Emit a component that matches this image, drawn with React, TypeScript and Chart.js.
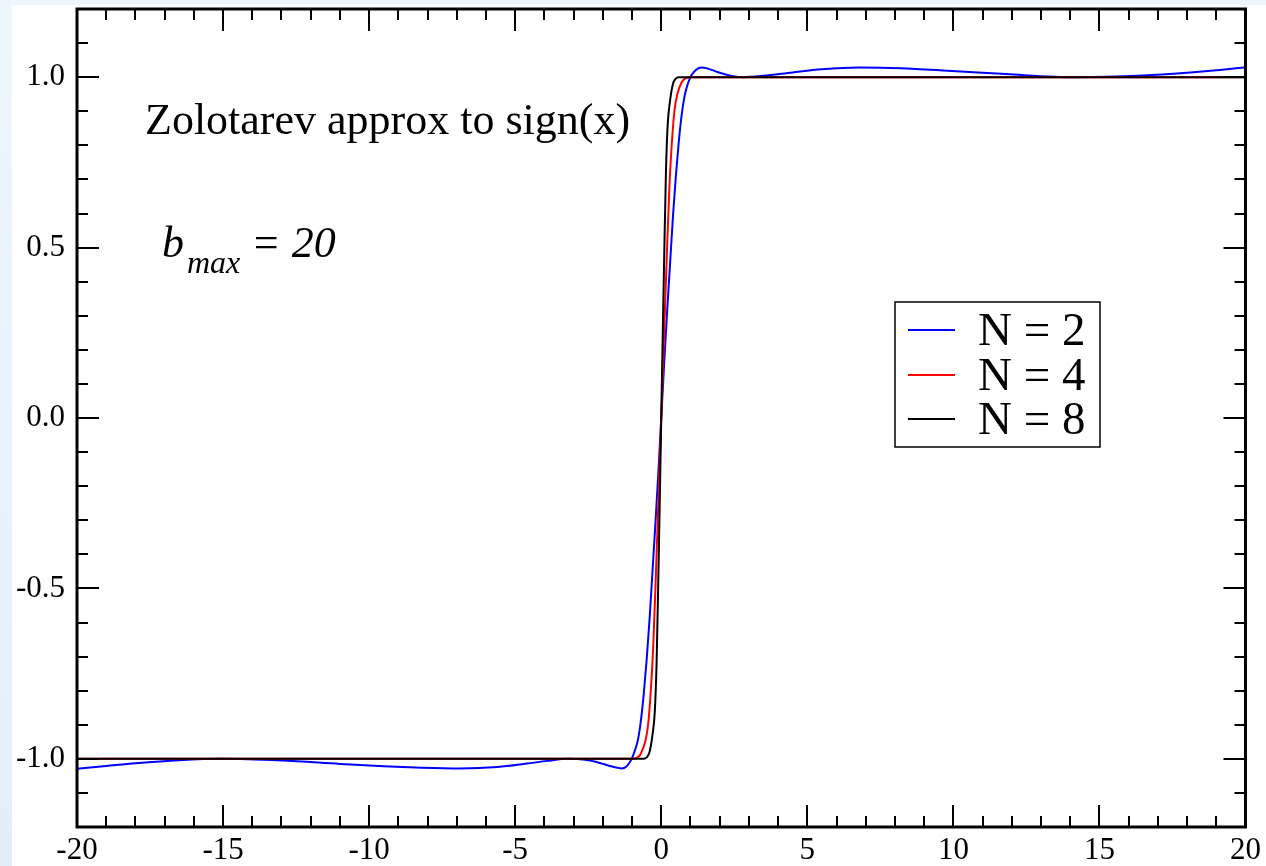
import React, { useEffect, useRef } from "react";
import { Chart, registerables } from "chart.js";

Chart.register(...registerables);

// ---- data ----
const xTicksMajor = [-20, -15, -10, -5, 0, 5, 10, 15, 20];
const yTicksMajor = [-1.0, -0.5, 0.0, 0.5, 1.0];

const seriesNames = ["N = 2", "N = 4", "N = 8"];

const blueX = [
  -20, -19, -18, -16.5, -15.0, -13, -11, -9.5, -8.2, -6.9, -5.6, -4.6, -3.9, -3.2, -2.6, -2.1, -1.75, -1.5,
  -1.35, -1.2, -1.1, -1.0, -0.9, -0.8, -0.7, -0.6, -0.5, -0.4, -0.3, -0.2, -0.1, 0, 0.1, 0.2, 0.3, 0.4, 0.5,
  0.6, 0.7, 0.8, 0.9, 1.0, 1.1, 1.2, 1.37, 1.6, 1.9, 2.3, 2.8, 3.5, 4.5, 5.5, 6.8, 8.2, 9.8, 11.8, 14.2, 16.5,
  18, 19, 20,
];
const blueY = [
  -1.029, -1.021, -1.013, -1.004, -1.0, -1.005, -1.015, -1.022, -1.026, -1.028, -1.024, -1.014, -1.006, -1.0,
  -1.003, -1.012, -1.021, -1.026, -1.028, -1.023, -1.013, -0.998, -0.975, -0.945, -0.89, -0.81, -0.71, -0.59,
  -0.45, -0.31, -0.16, 0, 0.16, 0.31, 0.45, 0.59, 0.71, 0.81, 0.89, 0.945, 0.978, 1.0, 1.013, 1.022, 1.028,
  1.025, 1.016, 1.006, 1.0, 1.004, 1.014, 1.023, 1.028, 1.026, 1.019, 1.009, 1.0, 1.005, 1.013, 1.02, 1.029,
];

const redX = [
  -20, -1.0, -0.9, -0.8, -0.7, -0.55, -0.45, -0.35, -0.28, -0.2, -0.1, 0, 0.1, 0.2, 0.28, 0.35, 0.45, 0.55,
  0.7, 0.8, 0.9, 1.0, 20,
];
const redY = [
  -1.0, -1.0, -0.999, -0.995, -0.985, -0.95, -0.9, -0.79, -0.68, -0.5, -0.25, 0, 0.25, 0.5, 0.68, 0.79, 0.9,
  0.95, 0.985, 0.995, 0.999, 1.0, 1.0,
];

const blackX = [
  -20, -0.6, -0.5, -0.4, -0.3, -0.22, -0.16, -0.1, -0.05, 0, 0.05, 0.1, 0.16, 0.22, 0.3, 0.4, 0.5, 0.6, 20,
];
const blackY = [
  -1.0, -1.0, -0.996, -0.98, -0.93, -0.86, -0.72, -0.47, -0.24, 0, 0.24, 0.47, 0.72, 0.86, 0.93, 0.98, 0.996,
  1.0, 1.0,
];

const seriesColors = ["#0000ff", "#ff0000", "#000000"];

const SERIF = "'Liberation Serif', 'Times New Roman', serif";

const toPoints = (xs: number[], ys: number[]) => xs.map((x, i) => ({ x, y: ys[i] }));

const framePlugin = {
  id: "frame",
  afterDraw(chart: any) {
    const { ctx, chartArea: ca, scales } = chart;
    const xs = scales.x;
    const ys = scales.y;
    ctx.save();
    ctx.strokeStyle = "#000";
    // ticks
    ctx.lineWidth = 2;
    ctx.beginPath();
    xs.ticks.forEach((t: any) => {
      const v = t.value;
      if (v <= -20 || v >= 20) return;
      const major = xTicksMajor.includes(Math.round(v)) && Math.abs(v - Math.round(v)) < 1e-6;
      const len = major ? 22 : 11;
      const px = Math.round(xs.getPixelForValue(v));
      ctx.moveTo(px, ca.bottom);
      ctx.lineTo(px, ca.bottom - len);
      ctx.moveTo(px, ca.top);
      ctx.lineTo(px, ca.top + len);
    });
    ys.ticks.forEach((t: any) => {
      const v = t.value;
      if (v <= -1.19 || v >= 1.19) return;
      const major = yTicksMajor.some((m) => Math.abs(m - v) < 1e-6);
      const len = major ? 22 : 11;
      const py = Math.round(ys.getPixelForValue(v));
      ctx.moveTo(ca.left, py);
      ctx.lineTo(ca.left + len, py);
      ctx.moveTo(ca.right, py);
      ctx.lineTo(ca.right - len, py);
    });
    ctx.stroke();
    // frame
    ctx.lineWidth = 3;
    ctx.strokeRect(ca.left, ca.top, ca.right - ca.left, ca.bottom - ca.top);

    // annotations
    ctx.fillStyle = "#000";
    ctx.textBaseline = "alphabetic";
    ctx.textAlign = "left";
    ctx.font = `44px ${SERIF}`;
    ctx.fillText("Zolotarev approx to sign(x)", 133, 129);
    ctx.font = `italic 44px ${SERIF}`;
    ctx.fillText("b", 150, 252);
    ctx.fillText("= 20", 239, 252);
    ctx.font = `italic 32px ${SERIF}`;
    ctx.fillText("max", 175, 268);

    // legend
    ctx.lineWidth = 1.5;
    ctx.strokeRect(883, 297, 205, 145);
    const rows = [325, 370, 414];
    seriesNames.forEach((name, i) => {
      ctx.strokeStyle = seriesColors[i];
      ctx.lineWidth = 2;
      ctx.beginPath();
      ctx.moveTo(896, rows[i]);
      ctx.lineTo(943, rows[i]);
      ctx.stroke();
      ctx.font = `47px ${SERIF}`;
      ctx.fillText(name, 966, rows[i] + 15);
    });
    ctx.restore();
  },
};

export default function App() {
  const ref = useRef<HTMLCanvasElement | null>(null);
  useEffect(() => {
    if (!ref.current) return;
    const chart = new Chart(ref.current, {
      type: "line",
      data: {
        datasets: [
          {
            label: seriesNames[0],
            data: toPoints(blueX, blueY),
            borderColor: seriesColors[0],
            order: 3,
          },
          {
            label: seriesNames[1],
            data: toPoints(redX, redY),
            borderColor: seriesColors[1],
            order: 2,
          },
          {
            label: seriesNames[2],
            data: toPoints(blackX, blackY),
            borderColor: seriesColors[2],
            order: 1,
          },
        ] as any,
      },
      options: {
        animation: false,
        responsive: false,
        devicePixelRatio: 1,
        layout: { padding: { left: 0, top: 4, right: 20, bottom: 0 } },
        elements: {
          point: { radius: 0 },
          line: { borderWidth: 2, cubicInterpolationMode: "monotone", fill: false },
        },
        plugins: { legend: { display: false }, tooltip: { enabled: false } },
        scales: {
          x: {
            type: "linear",
            min: -20,
            max: 20,
            grid: { display: false, drawTicks: false },
            border: { display: false },
            afterFit: (s: any) => {
              s.height = 39;
            },
            ticks: {
              stepSize: 1,
              autoSkip: false,
              maxRotation: 0,
              padding: 5,
              color: "#000",
              font: { family: SERIF, size: 31 },
              callback: (v: any) => {
                const n = Math.round(Number(v));
                return xTicksMajor.includes(n) && Math.abs(Number(v) - n) < 1e-6 ? String(n) : "";
              },
            },
          },
          y: {
            type: "linear",
            min: -1.2,
            max: 1.2,
            grid: { display: false, drawTicks: false },
            border: { display: false },
            afterFit: (s: any) => {
              s.width = 65;
              s.paddingTop = 0;
              s.paddingBottom = 0;
            },
            ticks: {
              stepSize: 0.1,
              autoSkip: false,
              padding: 12,
              color: "#000",
              font: { family: SERIF, size: 31 },
              callback: (v: any) => {
                const m = yTicksMajor.find((t) => Math.abs(t - Number(v)) < 1e-6);
                return m === undefined ? "" : m.toFixed(1);
              },
            },
          },
        },
      },
      plugins: [framePlugin],
    });
    return () => chart.destroy();
  }, []);

  return (
    <div
      style={{
        position: "fixed",
        left: 0,
        top: 0,
        width: 1266,
        height: 866,
        background: "linear-gradient(180deg, #eef6fd 0%, #e2effb 100%)",
      }}
    >
      <div style={{ position: "absolute", left: 12, top: 5, width: 1254, height: 861, background: "#fff" }}>
        <canvas ref={ref} width={1254} height={861} style={{ display: "block", width: 1254, height: 861 }} />
      </div>
    </div>
  );
}
